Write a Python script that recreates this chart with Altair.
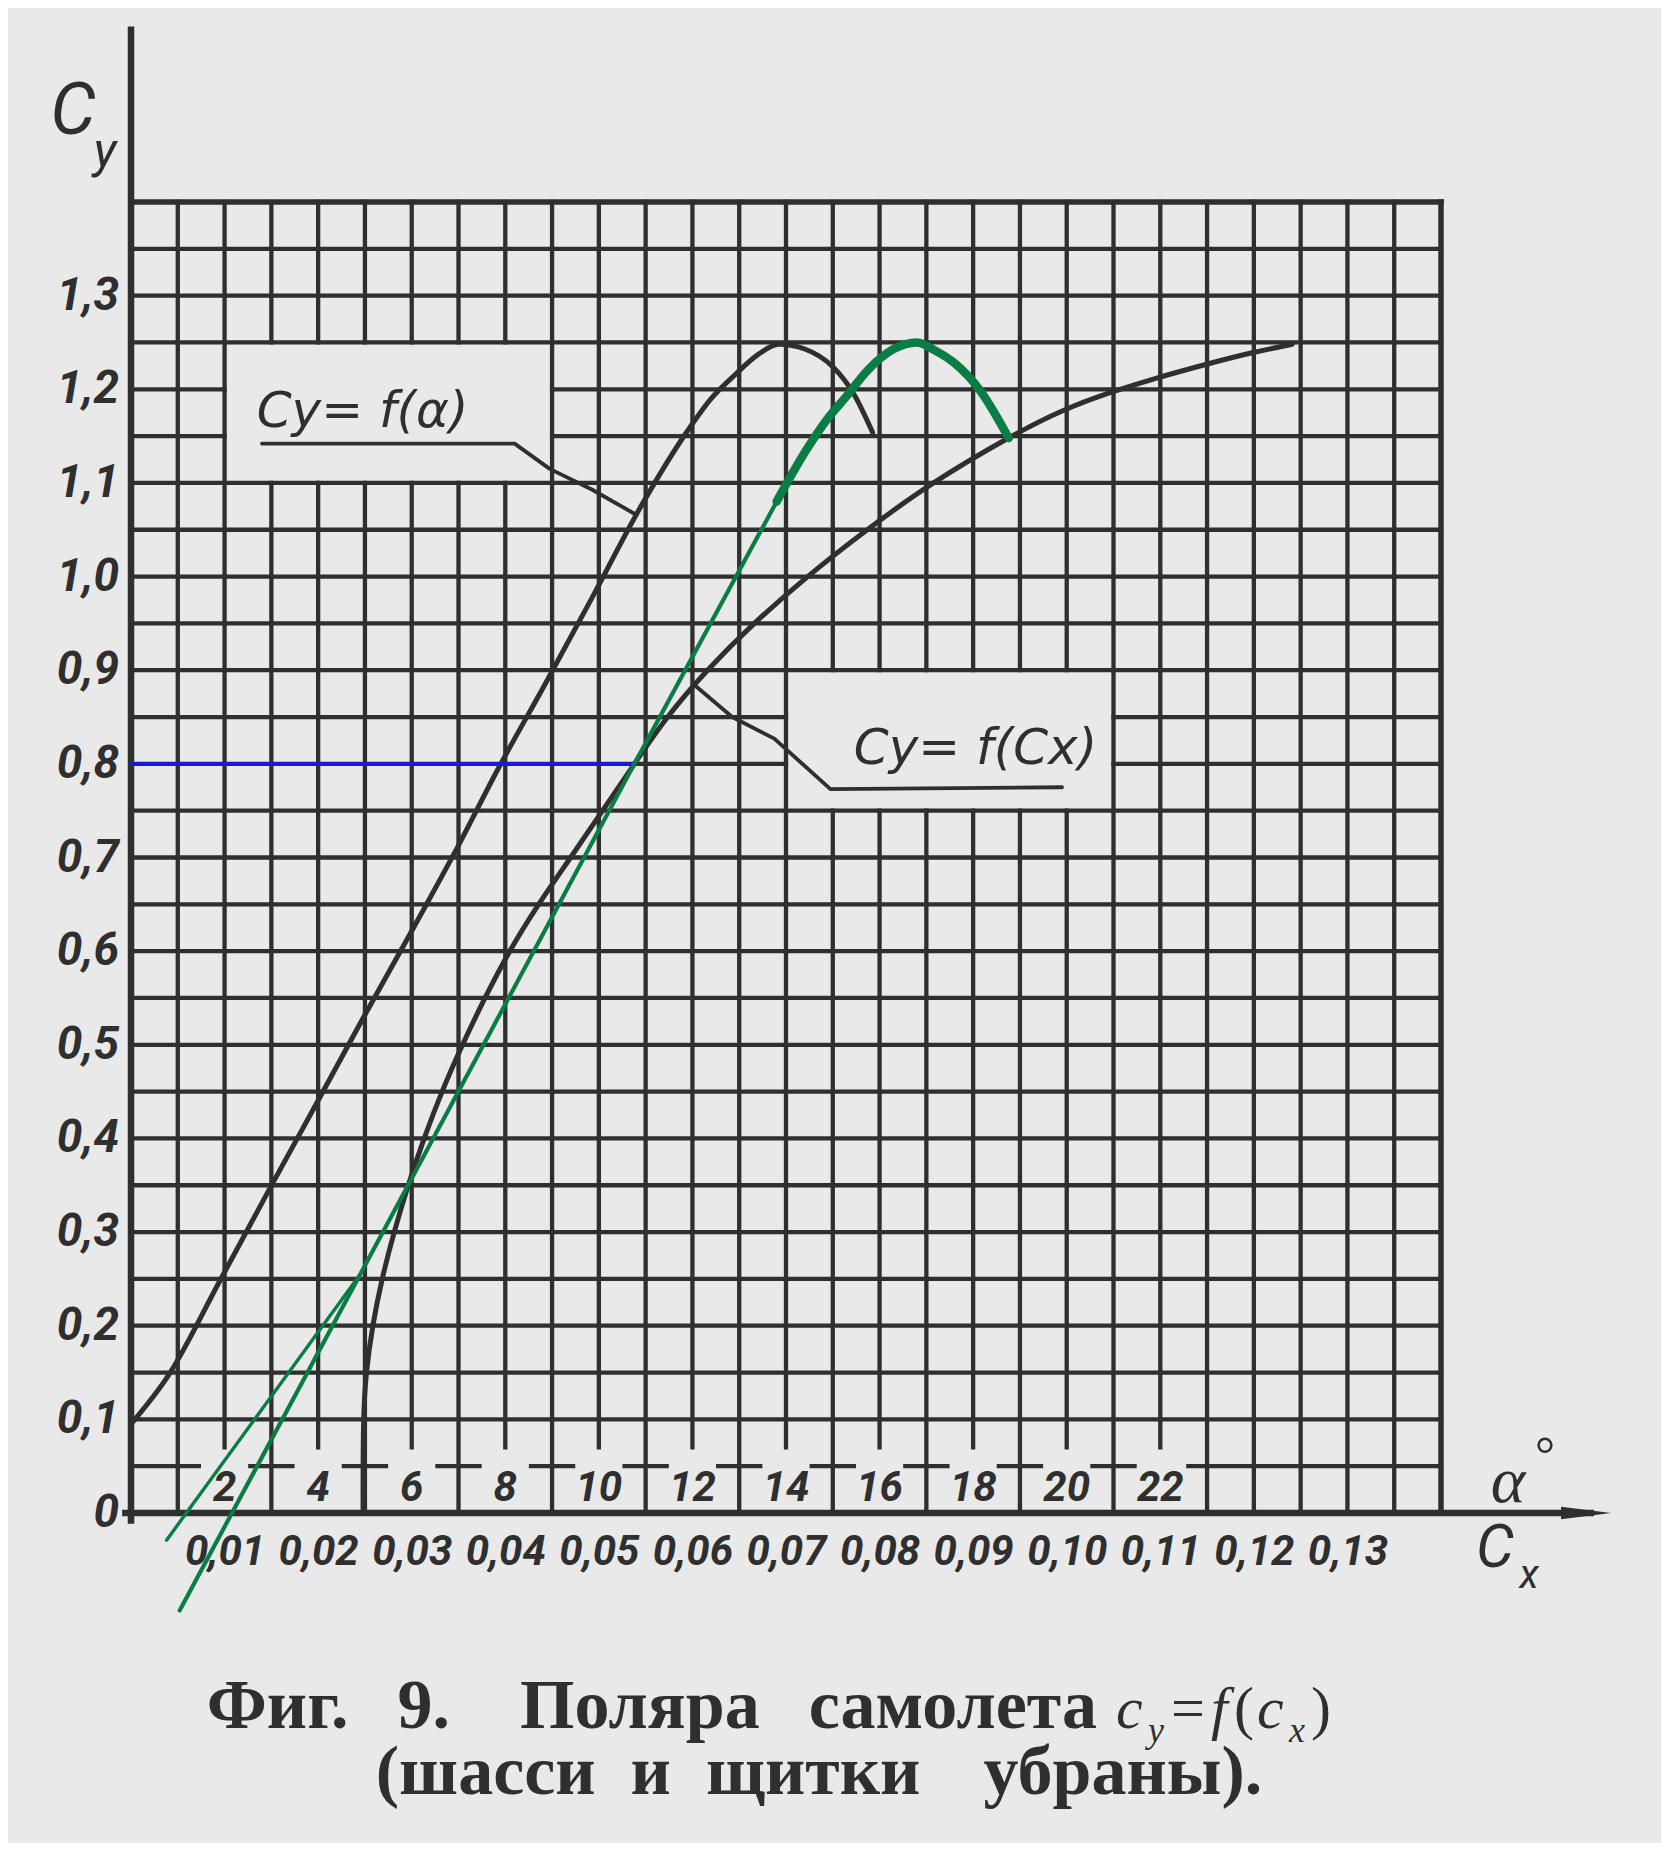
import altair as alt
import pandas as pd

# ---------------- colours / fonts ----------------
BG = "#e9e9e9"
INK = "#2f2f2f"
GREEN = "#0a7d44"
BLUE = "#1818e6"
HAND = "Roboto, 'Liberation Sans', sans-serif"
GREEKHAND = "'DejaVu Sans', sans-serif"
SERIF = "'Liberation Serif', 'DejaVu Serif', serif"

PLOT_W, PLOT_H = 1310, 1311
A_MAX, CX_MAX, CY_MAX = 28, 0.14, 1.4

# ---------------- data ----------------
# Cy = f(alpha)
alpha_deg = [0.0, 0.8, 1.9, 2.95, 3.95, 4.9, 5.95, 7.0, 7.85, 8.85, 9.85, 10.9,
             11.9, 12.4, 12.9, 13.4, 13.85, 14.4, 15.0, 15.45, 15.85]
cy_of_alpha = [0.095, 0.147, 0.248, 0.345, 0.436, 0.523, 0.617, 0.713, 0.795, 0.885,
               0.977, 1.075, 1.156, 1.190, 1.215, 1.237, 1.248, 1.243, 1.224, 1.195, 1.154]

# polar Cy = f(Cx)
polar_cx = [0.0248, 0.0248, 0.0251, 0.0258, 0.0268, 0.0281, 0.0296, 0.0313, 0.0332,
            0.0354, 0.0378, 0.0404, 0.0435, 0.0470, 0.0504, 0.0538, 0.0572, 0.0615,
            0.0665, 0.0722, 0.0786, 0.0855, 0.0940, 0.0995, 0.1047, 0.1095, 0.1150,
            0.1196, 0.1241]
polar_cy = [0.00, 0.10, 0.15, 0.20, 0.25, 0.30, 0.35, 0.40, 0.45, 0.50, 0.55, 0.60,
            0.65, 0.70, 0.75, 0.80, 0.85, 0.90, 0.95, 1.00, 1.05, 1.10, 1.150, 1.178,
            1.197, 1.212, 1.227, 1.239, 1.248]

# green construction lines
tangent1_cx = [0.0038, 0.0245]
tangent1_cy = [-0.029, 0.255]
tangent2_cx = [0.0052, 0.0538, 0.0690]
tangent2_cy = [-0.104, 0.800, 1.080]
hump_cx = [0.0690, 0.0721, 0.0744, 0.0765, 0.0787, 0.0815, 0.0840, 0.0860, 0.0880, 0.0908, 0.0938]
hump_cy = [1.080, 1.134, 1.168, 1.193, 1.220, 1.243, 1.250, 1.241, 1.228, 1.198, 1.148]

# blue level line
blue_cx = [0.0, 0.0538]
blue_cy = [0.8, 0.8]

# callout leaders (alpha units share the same horizontal grid)
lead1_a = [2.8, 8.2, 8.95, 9.85, 10.8]
lead1_cy = [1.142, 1.142, 1.115, 1.093, 1.066]
lead2_a = [19.9, 14.95, 13.75, 12.85, 12.05]
lead2_cy = [0.775, 0.773, 0.827, 0.850, 0.884]

# ticks / labels
cy_ticks = [0.0, 0.1, 0.2, 0.3, 0.4, 0.5, 0.6, 0.7, 0.8, 0.9, 1.0, 1.1, 1.2, 1.3]
cx_ticks = [0.01, 0.02, 0.03, 0.04, 0.05, 0.06, 0.07, 0.08, 0.09, 0.10, 0.11, 0.12, 0.13]
alpha_ticks = [2, 4, 6, 8, 10, 12, 14, 16, 18, 20, 22]
alpha_tick_text = ["2", "4", "6", "8", "10", "12", "14", "16", "18", "20", "22"]

callout1_text = "Cy= f(α)"
callout2_text = "Cy= f(Cx)"
title_line1 = "Фиг.\u2002\u20099.\u2002\u2002Поляра\u2002\u2009самолета"
title_line2 = "(шасси\u2002и\u2002щитки\u2002\u2009\u2009убраны)."

# ---------------- grid geometry ----------------
boxes = [(2, 9, 1.10, 1.25), (14, 21, 0.75, 0.90)]


def cut(pieces, lo, hi):
    out = []
    for s, e in pieces:
        if e <= lo or s >= hi:
            out.append((s, e))
        else:
            if s < lo:
                out.append((s, lo))
            if e > hi:
                out.append((hi, e))
    return out


grid_segs = []
for a in range(1, A_MAX):
    lo = 0.07 if a in alpha_ticks else 0.0
    pieces = [(lo, CY_MAX)]
    for a0, a1, c0, c1 in boxes:
        if a0 < a < a1:
            pieces = cut(pieces, c0, c1)
    for s, e in pieces:
        grid_segs.append((a, a, s, e))

for k in range(2, 28):
    c = round(0.05 * k, 2)
    pieces = [(0.0, A_MAX)]
    for a0, a1, c0, c1 in boxes:
        if c0 < c < c1:
            pieces = cut(pieces, a0, a1)
    for s, e in pieces:
        grid_segs.append((s, e, c, c))

# broken 0.05 line in the alpha-label row
grid_segs.append((0.0, 1.45, 0.05, 0.05))
for o in range(3, 22, 2):
    grid_segs.append((o - 0.45, o + 0.45, 0.05, 0.05))
grid_segs.append((22.6, A_MAX, 0.05, 0.05))

frame_segs = [(0, A_MAX, CY_MAX, CY_MAX), (A_MAX, A_MAX, 0, CY_MAX)]
axis_segs = [(0, 0, -0.008, 1.584), (-0.12, 31.2, 0, 0)]


def seg_df(segs):
    return pd.DataFrame(segs, columns=["a0", "a1", "c0", "c1"])


# ---------------- encodings ----------------
def xa(f):
    return alt.X(f, type="quantitative",
                 scale=alt.Scale(domain=[0, A_MAX], nice=False, zero=False), axis=None)


def xc(f, axis=None):
    return alt.X(f, type="quantitative",
                 scale=alt.Scale(domain=[0, CX_MAX], nice=False, zero=False), axis=axis)


def yc(f):
    return alt.Y(f, type="quantitative",
                 scale=alt.Scale(domain=[0, CY_MAX], nice=False, zero=False), axis=None)


cx_axis = alt.Axis(values=cx_ticks,
                   labelExpr="replace(format(datum.value, '.2f'), '.', ',')",
                   domain=False, ticks=False, grid=False, title=None,
                   labelFont=HAND, labelFontSize=42, labelFontStyle="italic",
                   labelFontWeight="bold", labelColor=INK, labelPadding=18,
                   labelOverlap=False, labelFlush=False)


def segments(segs, width):
    return alt.Chart(seg_df(segs)).mark_rule(color=INK, strokeWidth=width, strokeCap="square").encode(
        x=xa("a0"), x2=alt.X2("a1"), y=yc("c0"), y2=alt.Y2("c1"))


def line_cx(xs, ys, color, width, interp="linear"):
    df = pd.DataFrame({"cx": xs, "cy": ys, "i": list(range(len(xs)))})
    return alt.Chart(df).mark_line(color=color, strokeWidth=width, interpolate=interp,
                                   strokeCap="round", strokeJoin="round").encode(
        x=xc("cx"), y=yc("cy"), order="i:Q")


def line_a(xs, ys, color, width, interp="linear"):
    df = pd.DataFrame({"a": xs, "cy": ys, "i": list(range(len(xs)))})
    return alt.Chart(df).mark_line(color=color, strokeWidth=width, interpolate=interp,
                                   strokeCap="round", strokeJoin="round").encode(
        x=xa("a"), y=yc("cy"), order="i:Q")


def label(text, x, y, size, style="normal", weight="normal", font=HAND,
          align="center", baseline="middle"):
    return alt.Chart(pd.DataFrame({"t": [text]})).mark_text(
        font=font, fontSize=size, fontStyle=style, fontWeight=weight,
        align=align, baseline=baseline, color=INK).encode(
        x=alt.value(x), y=alt.value(y), text="t:N")


layers = []

layers.append(segments(grid_segs, 4.3))
layers.append(segments(frame_segs, 5.5))
layers.append(segments(axis_segs, 6.5))

# arrow head on the horizontal axis
arrow = alt.Chart(pd.DataFrame({"a": [31.1], "cy": [0.0]})).mark_point(
    shape="M-1,-0.25L1,0L-1,0.25Z", filled=True, size=2500, color=INK, opacity=1).encode(
    x=xa("a"), y=yc("cy"))
layers.append(arrow)

# Cy tick labels (left of the axis)
cy_text = ["0" if v == 0 else f"{v:.1f}".replace(".", ",") for v in cy_ticks]
ylab = alt.Chart(pd.DataFrame({"cy": cy_ticks, "t": cy_text})).mark_text(
    font=HAND, fontSize=46, fontStyle="italic", fontWeight="bold", color=INK,
    align="right", baseline="middle", dx=-12).encode(
    x=alt.value(0), y=yc("cy"), text="t:N")
layers.append(ylab)

# alpha labels in the bottom row
alpha_lab = alt.Chart(pd.DataFrame({"a": alpha_ticks, "t": alpha_tick_text,
                                    "cy": [0.027] * len(alpha_ticks)})).mark_text(
    font=HAND, fontSize=42, fontStyle="italic", fontWeight="bold", color=INK,
    align="center", baseline="middle").encode(x=xa("a"), y=yc("cy"), text="t:N")
layers.append(alpha_lab)

# curves
layers.append(line_a(alpha_deg, cy_of_alpha, INK, 5.0, "monotone"))
polar_df = pd.DataFrame({"cx": polar_cx, "cy": polar_cy, "i": list(range(len(polar_cx)))})
polar = alt.Chart(polar_df).mark_line(color=INK, strokeWidth=5.0, interpolate="basis",
                                      strokeCap="round").encode(
    x=xc("cx", axis=cx_axis), y=yc("cy"), order="i:Q")
layers.append(polar)

# leaders
layers.append(line_a(lead1_a, lead1_cy, INK, 3.8))
layers.append(line_a(lead2_a, lead2_cy, INK, 3.8))

# blue and green constructions
layers.append(line_cx(blue_cx, blue_cy, BLUE, 3.2))
layers.append(line_cx(tangent1_cx, tangent1_cy, GREEN, 3.4))
layers.append(line_cx(tangent2_cx, tangent2_cy, GREEN, 4.2))
layers.append(line_cx(hump_cx, hump_cy, GREEN, 8.5, "monotone"))

# callout texts
call = alt.Chart(pd.DataFrame({"a": [4.95, 18.05], "cy": [1.176, 0.816],
                               "t": [callout1_text, callout2_text]})).mark_text(
    font=GREEKHAND, fontSize=50, fontStyle="italic", color=INK,
    align="center", baseline="middle").encode(x=xa("a"), y=yc("cy"), text="t:N")
layers.append(call)

# axis names (pixel offsets from the plot origin)
layers.append(label("C", -58, -90, 72, style="italic"))
layers.append(label("y", -26, -50, 50, style="italic"))
layers.append(label("α", 1377, 1280, 66, style="italic", font=SERIF))
layers.append(label("°", 1414, 1254, 50, font=SERIF))
layers.append(label("C", 1364, 1347, 60, style="italic"))
layers.append(label("x", 1398, 1374, 40, style="italic"))

# caption
layers.append(label(title_line1, 966, 1526, 70, weight="bold", font=SERIF,
                    align="right", baseline="alphabetic"))
layers.append(label(title_line2, 688, 1592, 70, weight="bold", font=SERIF,
                    baseline="alphabetic"))
for txt, x, y, size, style in [
    ("c", 985, 1526, 60, "italic"),
    ("y", 1017, 1540, 36, "italic"),
    ("=", 1040, 1526, 60, "normal"),
    ("f", 1080, 1526, 60, "italic"),
    ("(", 1103, 1526, 60, "normal"),
    ("c", 1126, 1526, 60, "italic"),
    ("x", 1158, 1540, 36, "italic"),
    (")", 1180, 1526, 60, "normal"),
]:
    layers.append(label(txt, x, y, size, style=style, font=SERIF, align="left",
                        baseline="alphabetic"))

chart = alt.layer(*layers).resolve_scale(x="independent").properties(
    width=PLOT_W, height=PLOT_H,
    autosize=alt.AutoSizeParams(type="none"),
    padding={"left": 123, "top": 194, "right": 220, "bottom": 330},
    background=BG,
).configure_view(stroke=None)

chart.save("out.html", embed_options={"renderer": "svg", "actions": False})
